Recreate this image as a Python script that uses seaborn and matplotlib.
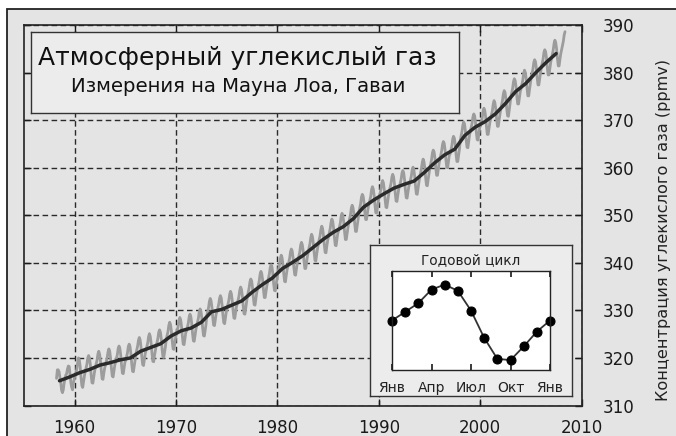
import numpy as np
import pandas as pd
import matplotlib
matplotlib.use("Agg")
import matplotlib.pyplot as plt
import matplotlib.patches as mpatches
import seaborn as sns

# monthly CO2 at Mauna Loa, Mar 1958 .. May 2008 (ppmv)
START_YEAR = 1958
START_MONTH = 2  # March (0-based)
CO2_MONTHLY = [
    315.7, 317.5, 317.5, 317.1, 315.9, 314.9, 313.2, 312.7, 313.3, 314.7,
    315.6, 316.4, 316.7, 317.7, 318.3, 318.2, 316.5, 314.8, 313.8, 313.3, 314.8, 315.6,
    316.4, 317.0, 317.6, 319.0, 320.0, 319.6, 318.2, 315.9, 314.2, 313.8, 315.0, 316.2,
    317.2, 317.9, 318.7, 320.0, 320.5, 320.0, 318.6, 316.4, 314.8, 314.7, 315.9, 317.1,
    318.0, 318.8, 319.5, 320.8, 321.4, 320.8, 319.4, 317.3, 315.6, 315.5, 316.8, 317.9,
    318.5, 319.3, 320.1, 321.3, 321.9, 321.4, 319.9, 317.8, 316.2, 316.0, 317.3, 318.5,
    319.2, 319.9, 320.7, 322.0, 322.5, 322.0, 320.6, 318.4, 316.8, 316.7, 317.9, 319.1,
    319.6, 320.3, 321.1, 322.4, 322.9, 322.4, 321.0, 318.8, 317.2, 317.1, 318.3, 319.5,
    320.9, 321.7, 322.5, 323.7, 324.3, 323.8, 322.3, 320.2, 318.6, 318.4, 319.7, 320.9,
    321.7, 322.5, 323.2, 324.5, 325.1, 324.5, 323.1, 321.0, 319.3, 319.2, 320.5, 321.6,
    322.6, 323.3, 324.1, 325.4, 325.9, 325.4, 324.0, 321.8, 320.2, 320.1, 321.3, 322.5,
    324.0, 324.8, 325.6, 326.9, 327.5, 327.0, 325.6, 323.5, 321.9, 321.8, 323.1, 324.3,
    325.0, 325.8, 326.6, 327.9, 328.5, 328.0, 326.6, 324.5, 322.9, 322.8, 324.1, 325.3,
    325.7, 326.5, 327.3, 328.6, 329.2, 328.7, 327.3, 325.2, 323.6, 323.5, 324.8, 326.0,
    326.8, 327.6, 328.4, 329.7, 330.3, 329.8, 328.4, 326.3, 324.7, 324.6, 325.9, 327.1,
    329.0, 329.8, 330.6, 331.9, 332.5, 332.0, 330.6, 328.5, 326.9, 326.8, 328.1, 329.3,
    329.7, 330.5, 331.3, 332.5, 333.1, 332.6, 331.1, 329.0, 327.4, 327.2, 328.5, 329.7,
    330.5, 331.3, 332.1, 333.4, 334.0, 333.5, 332.1, 330.0, 328.4, 328.3, 329.6, 330.8,
    331.4, 332.2, 333.0, 334.3, 334.9, 334.4, 333.0, 330.9, 329.3, 329.2, 330.5, 331.7,
    333.0, 333.8, 334.7, 336.0, 336.6, 336.2, 334.8, 332.7, 331.2, 331.1, 332.4, 333.7,
    334.6, 335.4, 336.2, 337.6, 338.2, 337.7, 336.4, 334.3, 332.7, 332.7, 334.0, 335.2,
    336.0, 336.8, 337.7, 339.0, 339.6, 339.2, 337.8, 335.7, 334.2, 334.1, 335.4, 336.7,
    337.9, 338.8, 339.6, 340.9, 341.6, 341.1, 339.7, 337.7, 336.1, 336.0, 337.4, 338.6,
    339.3, 340.1, 341.0, 342.3, 342.9, 342.5, 341.1, 339.0, 337.5, 337.4, 338.7, 340.0,
    340.7, 341.5, 342.3, 343.7, 344.3, 343.8, 342.5, 340.4, 338.8, 338.8, 340.1, 341.3,
    342.3, 343.2, 344.0, 345.3, 346.0, 345.5, 344.1, 342.1, 340.5, 340.4, 341.8, 343.0,
    344.0, 344.9, 345.7, 347.0, 347.7, 347.2, 345.8, 343.8, 342.2, 342.1, 343.5, 344.7,
    345.5, 346.4, 347.2, 348.5, 349.2, 348.7, 347.3, 345.3, 343.7, 343.6, 345.0, 346.2,
    346.8, 347.6, 348.4, 349.8, 350.4, 349.9, 348.6, 346.5, 344.9, 344.9, 346.2, 347.4,
    348.5, 349.3, 350.1, 351.5, 352.1, 351.6, 350.3, 348.2, 346.6, 346.6, 347.9, 349.1,
    350.7, 351.5, 352.4, 353.8, 354.4, 354.0, 352.7, 350.6, 349.1, 349.1, 350.4, 351.7,
    352.4, 353.2, 354.0, 355.4, 356.0, 355.5, 354.2, 352.1, 350.5, 350.5, 351.8, 353.0,
    353.8, 354.6, 355.4, 356.7, 357.3, 356.8, 355.4, 353.3, 351.7, 351.6, 352.9, 354.1,
    355.1, 355.9, 356.7, 358.0, 358.6, 358.1, 356.7, 354.6, 353.0, 352.9, 354.2, 355.4,
    356.1, 356.8, 357.6, 358.9, 359.4, 358.9, 357.5, 355.3, 353.7, 353.6, 354.8, 356.0,
    356.6, 357.4, 358.2, 359.5, 360.1, 359.6, 358.2, 356.1, 354.5, 354.4, 355.7, 356.9,
    358.1, 359.0, 359.8, 361.1, 361.8, 361.3, 359.9, 357.9, 356.3, 356.2, 357.6, 358.8,
    360.0, 360.8, 361.7, 363.1, 363.7, 363.3, 362.0, 359.9, 358.4, 358.4, 359.7, 361.0,
    361.9, 362.7, 363.6, 364.9, 365.5, 365.1, 363.7, 361.6, 360.1, 360.0, 361.3, 362.6,
    362.9, 363.7, 364.6, 366.0, 366.6, 366.2, 364.9, 362.8, 361.3, 361.3, 362.6, 363.9,
    365.8, 366.7, 367.6, 368.9, 369.6, 369.2, 367.8, 365.8, 364.3, 364.2, 365.6, 366.9,
    367.7, 368.5, 369.4, 370.7, 371.3, 370.9, 369.5, 367.4, 365.9, 365.8, 367.1, 368.4,
    368.9, 369.7, 370.5, 371.9, 372.5, 372.0, 370.7, 368.6, 367.0, 367.0, 368.3, 369.5,
    370.3, 371.2, 372.0, 373.4, 374.1, 373.6, 372.3, 370.3, 368.7, 368.7, 370.1, 371.3,
    372.4, 373.3, 374.2, 375.5, 376.2, 375.8, 374.4, 372.4, 370.9, 370.8, 372.2, 373.5,
    375.0, 375.8, 376.7, 378.1, 378.7, 378.3, 377.0, 374.9, 373.4, 373.4, 374.7, 376.0,
    376.7, 377.6, 378.4, 379.8, 380.5, 380.0, 378.7, 376.7, 375.1, 375.1, 376.5, 377.7,
    379.0, 379.8, 380.7, 382.1, 382.7, 382.3, 381.0, 378.9, 377.4, 377.4, 378.7, 380.0,
    381.1, 381.9, 382.8, 384.2, 384.8, 384.4, 383.1, 381.0, 379.5, 379.5, 380.8, 382.1,
    383.0, 383.9, 384.7, 386.1, 386.8, 386.3, 385.0, 383.0, 381.4, 381.4, 382.8, 384.0,
    384.8, 385.7, 386.6, 387.9, 388.6,
]

# smoothed trend (annual values, plotted at mid-year)
TREND_YEARS = list(range(1958, 2008))
TREND_CO2 = [
    315.2, 316.0, 316.9, 317.6, 318.5, 319.0, 319.6, 320.0, 321.4, 322.2,
    323.0, 324.6, 325.7, 326.3, 327.5, 329.7, 330.2, 331.1, 332.0, 333.8,
    335.4, 336.8, 338.8, 340.1, 341.5, 343.2, 344.9, 346.4, 347.6, 349.3,
    351.7, 353.2, 354.5, 355.7, 356.5, 357.2, 359.0, 361.0, 362.7, 363.9,
    366.8, 368.5, 369.7, 371.3, 373.5, 376.0, 377.7, 380.0, 382.1, 384.0,
]

# seasonal cycle for the inset (ppmv deviation, Jan .. next Jan)
CYCLE_MONTHS = list(range(13))
CYCLE_VALUES = [0.0, 0.7, 1.4, 2.5, 2.9, 2.4, 0.8, -1.4, -3.1, -3.2, -2.1, -0.9, 0.0]
CYCLE_TICKS = [0, 3, 6, 9, 12]
CYCLE_LABELS = ["Янв", "Апр", "Июл", "Окт", "Янв"]

X_TICKS = [1960, 1970, 1980, 1990, 2000, 2010]
Y_TICKS = [310, 320, 330, 340, 350, 360, 370, 380, 390]

TITLE = "Атмосферный углекислый газ"
SUBTITLE = "Измерения на Мауна Лоа, Гаваи"
Y_LABEL = "Концентрация углекислого газа (ppmv)"
INSET_TITLE = "Годовой цикл"

BG = "#e4e4e4"
BOX_BG = "#ececec"


def main():
    sns.set_theme(style="ticks")
    plt.rcParams["font.family"] = ["DejaVu Sans"]

    idx = np.arange(len(CO2_MONTHLY)) + START_MONTH
    monthly = pd.DataFrame({
        "year": START_YEAR + (idx + 0.5) / 12.0,
        "co2": CO2_MONTHLY,
    })
    trend = pd.DataFrame({
        "year": np.array(TREND_YEARS) + 0.5,
        "co2": TREND_CO2,
    })
    cycle = pd.DataFrame({"month": CYCLE_MONTHS, "dev": CYCLE_VALUES})

    W, H = 676, 436
    fig = plt.figure(figsize=(W / 100, H / 100), dpi=100)
    fig.patch.set_facecolor("white")
    frame = mpatches.Rectangle((7 / W, -0.1), 1.2, 1 - 9 / H + 0.1,
                               transform=fig.transFigure, facecolor=BG,
                               edgecolor="#222", lw=1.3, zorder=-10)
    fig.patches.append(frame)

    ax = fig.add_axes([24 / W, 1 - 405.5 / H, 557.5 / W, 380.5 / H])
    ax.set_facecolor(BG)

    sns.lineplot(data=monthly, x="year", y="co2", ax=ax, color="#9c9c9c",
                 lw=2.0, sort=False, zorder=3)
    sns.lineplot(data=trend, x="year", y="co2", ax=ax, color="#2b2b2b",
                 lw=2.5, sort=False, zorder=4)

    ax.set_xlim(1955, 2010)
    ax.set_ylim(310, 390)
    ax.set_xticks(X_TICKS)
    ax.set_yticks(Y_TICKS)
    ax.grid(True, color="#2a2a2a", linestyle=(0, (4, 2.5)), lw=1.0, zorder=1)
    ax.set_axisbelow(True)
    ax.tick_params(direction="in", length=5, width=1, colors="#1a1a1a",
                   top=True, bottom=True, left=True, right=True,
                   labelleft=False, labelright=True, labelsize=12)
    ax.tick_params(axis="y", pad=15)
    ax.tick_params(axis="x", pad=10)
    for s in ax.spines.values():
        s.set_color("#222")
        s.set_linewidth(1.2)
    ax.set_xlabel("")
    ax.yaxis.set_label_position("right")
    ax.set_ylabel(Y_LABEL, fontsize=11.6, color="#222", rotation=90)
    ax.yaxis.set_label_coords(1.134, 0.46)

    # title box
    tb = fig.add_axes([31 / W, 1 - 113 / H, 428 / W, 81 / H])
    tb.set_facecolor(BOX_BG)
    tb.set_xticks([])
    tb.set_yticks([])
    for s in tb.spines.values():
        s.set_color("#333")
        s.set_linewidth(1.0)
    tb.text(0.483, 1 - 33 / 81, TITLE, ha="center", va="baseline",
            fontsize=18, color="#111", transform=tb.transAxes)
    tb.text(0.483, 1 - 60 / 81, SUBTITLE, ha="center", va="baseline",
            fontsize=14.2, color="#111", transform=tb.transAxes)

    # inset box
    ib = fig.add_axes([370 / W, 1 - 396 / H, 202 / W, 151 / H])
    ib.set_facecolor(BOX_BG)
    ib.set_xticks([])
    ib.set_yticks([])
    for s in ib.spines.values():
        s.set_color("#333")
        s.set_linewidth(1.0)

    ia = fig.add_axes([392 / W, 1 - 370 / H, 158 / W, 99 / H])
    ia.set_facecolor("white")
    sns.lineplot(data=cycle, x="month", y="dev", ax=ia, color="#333",
                 lw=1.3, marker="o", markersize=6.5, markerfacecolor="black",
                 markeredgecolor="black", clip_on=False)
    ia.set_xlim(0, 12)
    ia.set_ylim(-4, 4)
    ia.set_xticks(CYCLE_TICKS)
    ia.set_xticklabels(CYCLE_LABELS)
    ia.set_yticks([])
    ia.set_xlabel("")
    ia.set_ylabel("")
    ia.tick_params(axis="x", direction="in", length=4, top=True, bottom=True,
                   labelsize=10, pad=8, colors="#222")
    ia.set_title(INSET_TITLE, fontsize=9.8, pad=5, color="#222")
    for s in ia.spines.values():
        s.set_color("#222")
        s.set_linewidth(1.0)

    fig.savefig("out.png", dpi=100, facecolor="white")
    plt.close(fig)


if __name__ == "__main__":
    main()
